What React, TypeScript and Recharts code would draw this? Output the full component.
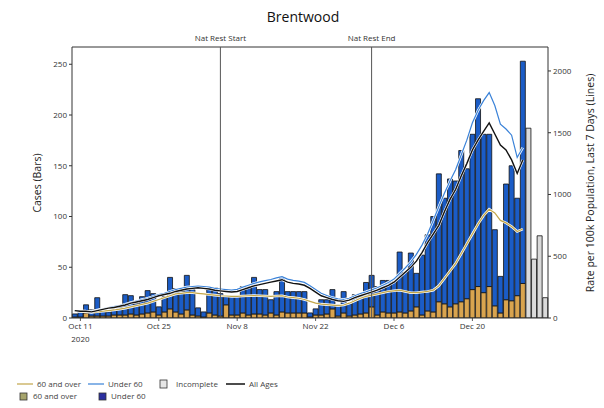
import { ComposedChart, Bar, Line, XAxis, YAxis, ReferenceLine } from 'recharts';

const MONTHS = ['Jan', 'Feb', 'Mar', 'Apr', 'May', 'Jun', 'Jul', 'Aug', 'Sep', 'Oct', 'Nov', 'Dec'];

// one bar per day, Oct 10 2020 .. Jan 2 2021
const dates: string[] = [];
for (let i = 0; i < 85; i++) {
  const d = new Date(2020, 9, 10 + i);
  dates.push(`${MONTHS[d.getMonth()]} ${d.getDate()}`);
}

const tickDates = ['Oct 11', 'Oct 25', 'Nov 8', 'Nov 22', 'Dec 6', 'Dec 20'];

// daily cases, complete days (Oct 10 .. Dec 30)
const over60Cases = [
  1, 1, 5, 2, 2, 2, 2, 3, 3, 3, 4, 3, 4, 5, 6, 3, 6, 9, 6, 4, 8, 3, 2, 1, 5, 3, 2, 13, 3, 3,
  5, 3, 4, 4, 3, 5, 3, 6, 5, 5, 5, 5, 1, 3, 3, 4, 9, 2, 5, 2, 3, 4, 5, 11, 3, 6, 5, 5, 6, 5,
  7, 11, 3, 7, 6, 16, 14, 11, 14, 16, 19, 28, 31, 25, 31, 12, 5, 18, 17, 22, 34,
];
const under60Cases = [
  3, 6, 8, 6, 18, 5, 4, 5, 8, 20, 18, 11, 17, 22, 18, 8, 15, 31, 23, 22, 34, 25, 8, 5, 25, 27, 22, 8, 18, 18,
  26, 28, 36, 24, 25, 13, 23, 34, 21, 21, 21, 21, 4, 6, 15, 14, 19, 11, 21, 12, 20, 20, 30, 31, 28, 31, 32, 31, 59, 40,
  57, 33, 59, 75, 94, 126, 104, 126, 121, 149, 128, 153, 185, 156, 150, 75, 36, 114, 133, 96, 219,
];
// last four days, not yet complete
const incompleteCases = [187, 58, 81, 20];

// rate per 100k, last 7 days
const rateOver60 = [
  55, 52, 48, 45, 50, 55, 60, 65, 72, 80, 90, 100, 110, 120, 135, 150, 165, 180, 195, 200, 205, 205, 200, 195, 190, 185, 180, 178, 175, 175,
  178, 180, 182, 180, 178, 175, 178, 180, 170, 165, 160, 150, 135, 120, 112, 108, 105, 100, 105, 120, 140, 160, 175, 185, 195, 205, 215, 220, 225, 215,
  205, 205, 210, 215, 225, 260, 320, 380, 440, 520, 600, 680, 760, 830, 880, 850, 790, 770, 740, 700, 720,
];
const rateUnder60 = [
  60, 58, 56, 55, 65, 75, 85, 92, 100, 112, 125, 138, 150, 160, 175, 190, 200, 215, 230, 240, 250, 255, 258, 255, 250, 240, 235, 230, 225, 232,
  250, 265, 280, 292, 302, 312, 325, 335, 315, 305, 298, 288, 262, 230, 200, 182, 165, 155, 150, 160, 180, 198, 212, 228, 245, 265, 288, 315, 360, 405,
  455, 515, 590, 680, 790, 900, 1010, 1110, 1200, 1320, 1440, 1580, 1680, 1760, 1825, 1720, 1570, 1530, 1480, 1300, 1380,
];
const rateAll = [
  60, 55, 55, 50, 60, 70, 80, 85, 95, 105, 120, 130, 140, 150, 165, 180, 190, 200, 215, 225, 235, 240, 245, 240, 235, 225, 220, 215, 210, 215,
  230, 245, 260, 270, 280, 290, 300, 310, 290, 280, 275, 265, 240, 210, 180, 165, 150, 140, 135, 145, 165, 180, 195, 210, 225, 245, 265, 290, 330, 370,
  410, 460, 530, 610, 680, 750, 860, 960, 1040, 1150, 1250, 1360, 1440, 1510, 1580, 1490, 1400, 1360, 1280, 1170, 1280,
];

const nComplete = over60Cases.length;
const data = dates.map((date, i) => ({
  date,
  over60: i < nComplete ? over60Cases[i] : null,
  under60: i < nComplete ? under60Cases[i] : null,
  incomplete: i >= nComplete ? incompleteCases[i - nComplete] : null,
  rOver60: i < nComplete ? rateOver60[i] : null,
  rUnder60: i < nComplete ? rateUnder60[i] : null,
  rAll: i < nComplete ? rateAll[i] : null,
}));

const FONT = '"Open Sans", "DejaVu Sans", sans-serif';
const TAN = '#d9a44f';
const BLUE = '#1b5cc6';
const LINE_TAN = '#c2a64a';
const LINE_BLUE = '#3a82d8';

const DateTick = (props: any) => {
  const { x, y, payload } = props;
  if (!tickDates.includes(payload.value)) return null;
  return (
    <g>
      <line x1={x} x2={x} y1={y - 5} y2={y - 2} stroke="#333" strokeWidth={0.8} />
      <text x={x} y={y} dy={6} textAnchor="middle" fontSize={8} fill="#333" fontFamily={FONT}>
        {payload.value}
      </text>
      {payload.value === 'Oct 11' && (
        <text x={x} y={y} dy={19} textAnchor="middle" fontSize={8} fill="#333" fontFamily={FONT}>
          2020
        </text>
      )}
    </g>
  );
};

const halo = { stroke: '#fff', strokeWidth: 2.6, dot: false, isAnimationActive: false, yAxisId: 'right', legendType: 'none' as const };

export default function App() {
  return (
    <div style={{ position: 'absolute', left: 0, top: 0, width: 604, height: 408, background: '#fff' }}>
      <ComposedChart
        width={604}
        height={408}
        data={data}
        margin={{ top: 47, right: 16, bottom: 60, left: 32 }}
        barCategoryGap="6%"
      >
        <XAxis
          dataKey="date"
          interval={0}
          tickLine={false}
          tickSize={3}
          tickMargin={2}
          height={30}
          stroke="#333"
          tick={<DateTick />}
        />
        <YAxis
          yAxisId="left"
          domain={[0, 267]}
          ticks={[0, 50, 100, 150, 200, 250]}
          allowDataOverflow
          width={40}
          tickSize={3}
          tickMargin={2}
          stroke="#333"
          tick={{ fontSize: 8, fill: '#333', fontFamily: FONT }}
        />
        <YAxis
          yAxisId="right"
          orientation="right"
          domain={[0, 2194]}
          ticks={[0, 500, 1000, 1500, 2000]}
          allowDataOverflow
          width={40}
          tickSize={3}
          tickMargin={2}
          stroke="#333"
          tick={{ fontSize: 8, fill: '#333', fontFamily: FONT }}
        />
        <Bar yAxisId="left" dataKey="over60" stackId="a" fill={TAN} stroke="#111" strokeWidth={0.8} isAnimationActive={false} />
        <Bar yAxisId="left" dataKey="under60" stackId="a" fill={BLUE} stroke="#111" strokeWidth={0.8} isAnimationActive={false} />
        <Bar yAxisId="left" dataKey="incomplete" stackId="a" fill="#dadada" stroke="#111" strokeWidth={0.8} isAnimationActive={false} />
        <Line {...halo} dataKey="rOver60" />
        <Line yAxisId="right" dataKey="rOver60" stroke={LINE_TAN} strokeWidth={1.2} dot={false} isAnimationActive={false} />
        <Line {...halo} dataKey="rUnder60" />
        <Line yAxisId="right" dataKey="rUnder60" stroke={LINE_BLUE} strokeWidth={1.2} dot={false} isAnimationActive={false} />
        <Line {...halo} dataKey="rAll" />
        <Line yAxisId="right" dataKey="rAll" stroke="#111" strokeWidth={1.4} dot={false} isAnimationActive={false} />
        <ReferenceLine yAxisId="left" y={267} stroke="#333" />
        <ReferenceLine
          yAxisId="left"
          x="Nov 5"
          stroke="#555"
          strokeWidth={1}
          label={{ value: 'Nat Rest Start', position: 'top', fontSize: 8, fill: '#333', fontFamily: FONT, offset: 6 }}
        />
        <ReferenceLine
          yAxisId="left"
          x="Dec 2"
          stroke="#555"
          strokeWidth={1}
          label={{ value: 'Nat Rest End', position: 'top', fontSize: 8, fill: '#333', fontFamily: FONT, offset: 6 }}
        />
      </ComposedChart>
      <svg width={604} height={408} style={{ position: 'absolute', left: 0, top: 0, pointerEvents: 'none' }} fontFamily={FONT}>
        <text x={303} y={22} textAnchor="middle" fontSize={14} fill="#111">Brentwood</text>
        <text transform="translate(41,183) rotate(-90)" textAnchor="middle" fontSize={10.5} fill="#222">Cases (Bars)</text>
        <text transform="translate(594,183) rotate(-90)" textAnchor="middle" fontSize={10.5} fill="#222">
          Rate per 100k Population, Last 7 Days (Lines)
        </text>
        {/* legend */}
        <g fontSize={8} fill="#444">
          <line x1={17} x2={33} y1={384} y2={384} stroke={LINE_TAN} strokeWidth={1.2} />
          <text x={37} y={387}>60 and over</text>
          <line x1={88} x2={104} y1={384} y2={384} stroke={LINE_BLUE} strokeWidth={1.2} />
          <text x={108} y={387}>Under 60</text>
          <rect x={160} y={380} width={7} height={8} fill="#e6e6e6" stroke="#333" strokeWidth={0.8} />
          <text x={176} y={387}>Incomplete</text>
          <line x1={226} x2={245} y1={384} y2={384} stroke="#111" strokeWidth={1.5} />
          <text x={249} y={387}>All Ages</text>
          <rect x={20} y={393} width={7} height={7} fill="#a6a46c" stroke="#333" strokeWidth={0.8} />
          <text x={33} y={399}>60 and over</text>
          <rect x={99} y={393} width={7} height={7} fill="#2b2fa0" stroke="#333" strokeWidth={0.8} />
          <text x={111} y={399}>Under 60</text>
        </g>
      </svg>
    </div>
  );
}
